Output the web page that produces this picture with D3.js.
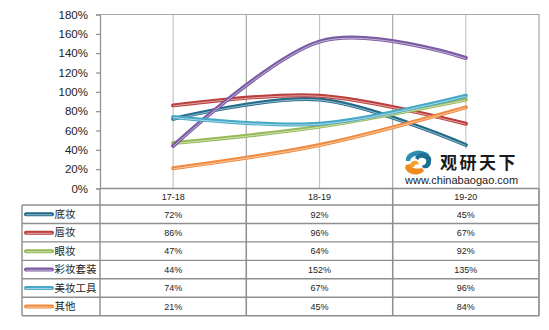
<!DOCTYPE html>
<html><head><meta charset="utf-8">
<script src="https://cdn.jsdelivr.net/npm/d3@7"></script>
<style>body{margin:0;background:#fff}svg{display:block}</style>
</head><body>
<svg id="c" width="549" height="330"></svg>
<script>
const categories = ["17-18", "18-19", "19-20"];
const seriesNames = ["底妆", "唇妆", "眼妆", "彩妆套装", "美妆工具", "其他"];
const s_dizhuang = [72, 92, 45];
const s_chunzhuang = [86, 96, 67];
const s_yanzhuang = [47, 64, 92];
const s_taozhuang = [44, 152, 135];
const s_gongju = [74, 67, 96];
const s_qita = [21, 45, 84];
const seriesValues = [s_dizhuang, s_chunzhuang, s_yanzhuang, s_taozhuang, s_gongju, s_qita];
const colors = ["#216a8a", "#b93e3c", "#94b956", "#7a5aa3", "#45a8c4", "#f08a3e"];
const yTicks = [0, 20, 40, 60, 80, 100, 120, 140, 160, 180];

const svg = d3.select("#c");
const L = 100, R = 539, T = 14.5, B = 188.5;
const tableLeft = 22, headerH = 16.5, rowH = 18.45;

const x = d3.scaleBand().domain(categories).range([L, R]).padding(0);
const y = d3.scaleLinear().domain([0, 180]).range([B, T]);
const cx = d => x(d) + x.bandwidth() / 2;

const grid = "#c4c4c4", border = "#8e8e8e";

// vertical gridlines at centers
svg.append("g").selectAll("line").data(categories).join("line")
  .attr("x1", d => cx(d)).attr("x2", d => cx(d)).attr("y1", T).attr("y2", B)
  .attr("stroke", grid).attr("stroke-width", 1.2);
// boundaries
const bounds = categories.slice(1).map(d => x(d));
svg.append("g").selectAll("line").data(bounds).join("line")
  .attr("x1", d => d).attr("x2", d => d).attr("y1", T).attr("y2", B + headerH + rowH * 6)
  .attr("stroke", "#a8a8a8").attr("stroke-width", 1.2);

// plot border top and right
svg.append("path").attr("d", `M${L},${T}H${R}V${B + headerH + rowH * 6}`)
  .attr("fill", "none").attr("stroke", "#a8a8a8").attr("stroke-width", 1.2);

// y axis
const yAxis = d3.axisLeft(y).tickValues(yTicks).tickFormat(d => d + "%").tickSize(4).tickPadding(8);
const ya = svg.append("g").attr("transform", `translate(${L},0)`).call(yAxis);
ya.select(".domain").attr("stroke", border).attr("stroke-width", 1.2);
ya.selectAll(".tick line").attr("stroke", border).attr("stroke-width", 1.2);
ya.selectAll("text").attr("font-family", "Liberation Sans, Arial, sans-serif").attr("font-size", "11.5px").attr("fill", "#222");

// watermark
const wm = svg.append("g");
wm.append("rect").attr("x", 401).attr("y", 149).attr("width", 122).attr("height", 38.5).attr("fill", "#fff");
// icon
const ic = wm.append("g").attr("transform", "translate(419,162)");
ic.append("path").attr("d", "M-13,-1 A13,9 0 0 1 10,-8 L8,-5 A10,6 0 0 0 -9,-1 Z").attr("fill", "#2a8fb0");
ic.append("path").attr("d", "M-4,-4 A7,6 0 0 1 12,0 A6,6 0 0 1 4,6 L3,3 A3,3 0 0 0 7,0 A4,3 0 0 0 -1,-2 Z").attr("fill", "#1f6f94");
ic.append("path").attr("d", "M-13,3 A10,7 0 0 0 5,9 L3,6 A8,4 0 0 1 -9,2 Z").attr("fill", "#f08a1f");
ic.append("path").attr("d", "M-9,5 A5,5 0 0 1 -1,0 L0,3 A3,3 0 0 0 -5,5 Z").attr("fill", "#f5a023");
wm.append("text").attr("x", 440).attr("y", 168.5).text("观研天下")
  .attr("font-family", "Noto Sans CJK SC, sans-serif").attr("font-weight", "bold").attr("font-size", "17px").attr("fill", "#1a1a1a").attr("letter-spacing", "2.5px");
wm.append("text").attr("x", 405).attr("y", 183.5).text("www.chinabaogao.com")
  .attr("font-family", "Liberation Sans, Arial, sans-serif").attr("font-size", "11px").attr("fill", "#222");

// lines
const line = d3.line().x((d, i) => cx(categories[i])).y(d => y(d)).curve(d3.curveCardinal.tension(0));
const lg = svg.append("g");
seriesValues.forEach((vals, k) => {
  const g = lg.append("g");
  g.append("path").attr("d", line(vals)).attr("fill", "none").attr("stroke", colors[k])
    .attr("stroke-width", 4).attr("stroke-linecap", "round");
  g.append("path").attr("d", line(vals)).attr("fill", "none").attr("stroke", "#fff")
    .attr("stroke-opacity", 0.55).attr("stroke-width", 1).attr("transform", "translate(0,0.6)");
});

// table
const tb = svg.append("g");
const tTop = B, tBottom = B + headerH + rowH * 6;
tb.append("line").attr("x1", L).attr("x2", R).attr("y1", tTop).attr("y2", tTop).attr("stroke", border).attr("stroke-width", 1.4);
for (let r = 0; r <= 6; r++) {
  const yy = tTop + headerH + r * rowH;
  tb.append("line").attr("x1", tableLeft).attr("x2", R).attr("y1", yy).attr("y2", yy).attr("stroke", border).attr("stroke-width", 1.4);
}
tb.append("line").attr("x1", tableLeft).attr("x2", tableLeft).attr("y1", tTop + headerH).attr("y2", tBottom).attr("stroke", border).attr("stroke-width", 1.4);
tb.append("line").attr("x1", L).attr("x2", L).attr("y1", tTop).attr("y2", tBottom).attr("stroke", border).attr("stroke-width", 1.4);
tb.append("line").attr("x1", R).attr("x2", R).attr("y1", tTop).attr("y2", tBottom).attr("stroke", border).attr("stroke-width", 1.4);
bounds.forEach(b => tb.append("line").attr("x1", b).attr("x2", b).attr("y1", tTop).attr("y2", tBottom).attr("stroke", border).attr("stroke-width", 1.4));

tb.selectAll("text.h").data(categories).join("text").attr("class", "h")
  .attr("x", d => cx(d)).attr("y", tTop + headerH / 2 + 3.3).attr("text-anchor", "middle").text(d => d)
  .attr("font-family", "Liberation Sans, Arial, sans-serif").attr("font-size", "9px").attr("fill", "#222");

seriesNames.forEach((name, r) => {
  const yc = tTop + headerH + r * rowH + rowH / 2;
  tb.append("line").attr("x1", 26).attr("x2", 52).attr("y1", yc).attr("y2", yc)
    .attr("stroke", colors[r]).attr("stroke-width", 4).attr("stroke-linecap", "round");
  tb.append("line").attr("x1", 26).attr("x2", 52).attr("y1", yc + 0.6).attr("y2", yc + 0.6)
    .attr("stroke", "#fff").attr("stroke-opacity", 0.55).attr("stroke-width", 1);
  tb.append("text").attr("x", 54.5).attr("y", yc + 3.8).text(name)
    .attr("font-family", "Noto Sans CJK SC, sans-serif").attr("font-size", "10.5px").attr("fill", "#222");
  seriesValues[r].forEach((v, i) => {
    tb.append("text").attr("x", cx(categories[i])).attr("y", yc + 3.3).attr("text-anchor", "middle")
      .text(v + "%").attr("font-family", "Liberation Sans, Arial, sans-serif").attr("font-size", "9px").attr("fill", "#222");
  });
});
</script>
</body></html>
